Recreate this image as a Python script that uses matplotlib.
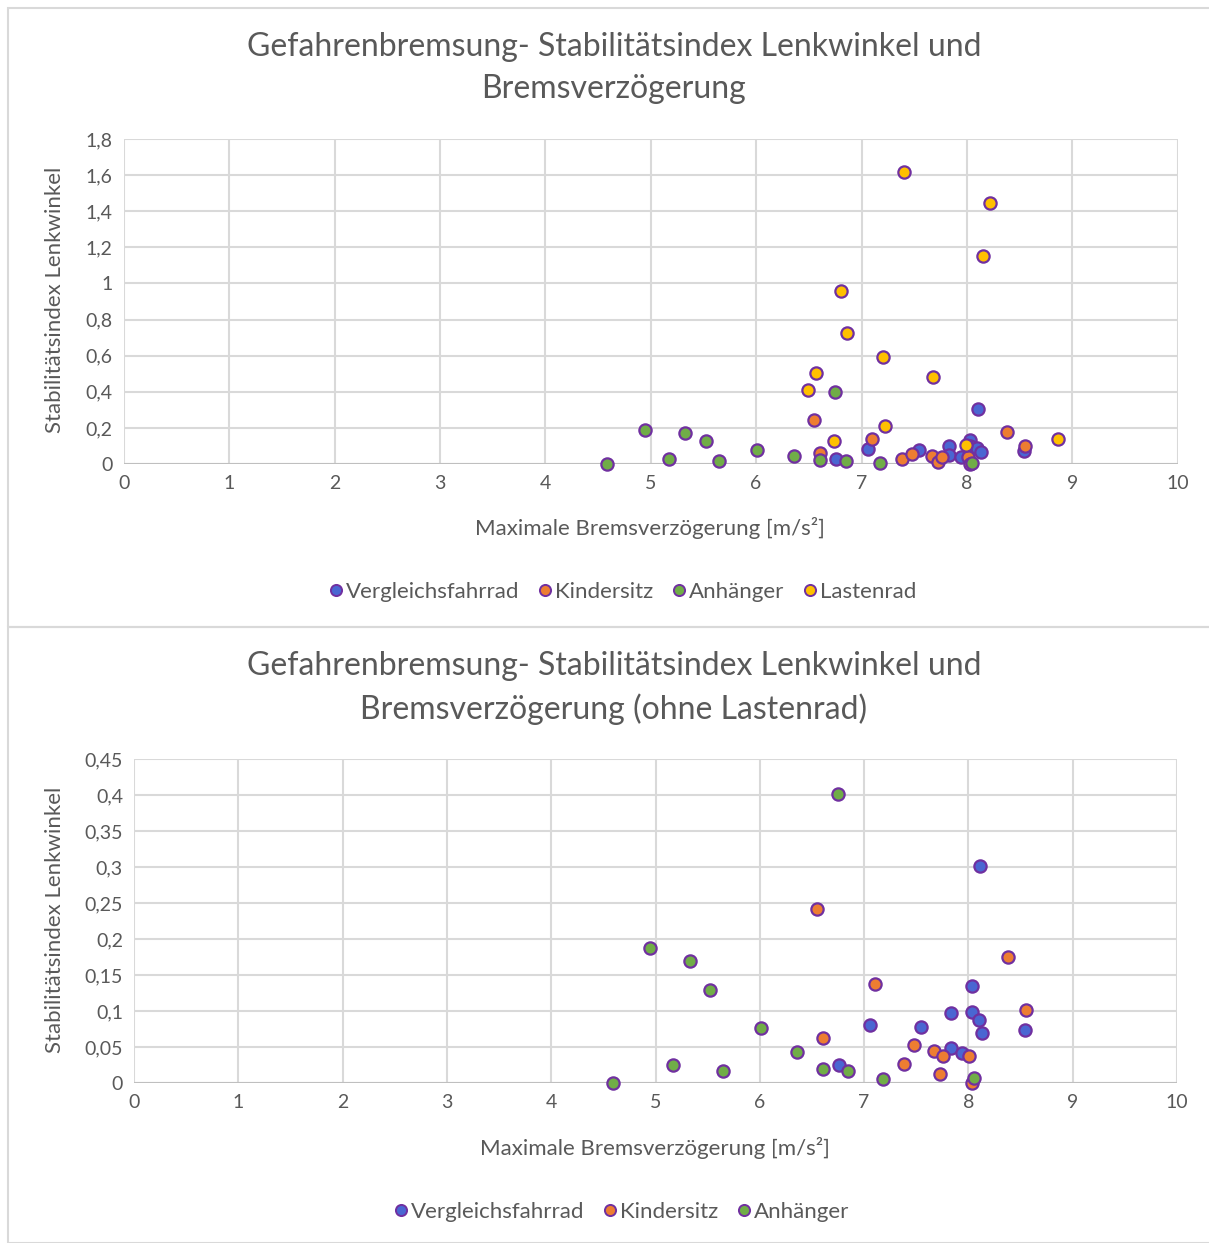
import matplotlib
matplotlib.use("Agg")
import matplotlib.pyplot as plt
from matplotlib.lines import Line2D
from matplotlib.patches import Rectangle

# Maximale Bremsverzögerung [m/s²] and Stabilitätsindex Lenkwinkel per group
vergleich_x = [6.76, 7.06, 7.55, 7.83, 7.83, 7.94, 8.03, 8.03, 8.10, 8.11, 8.13, 8.54]
vergleich_y = [0.025, 0.081, 0.078, 0.097, 0.048, 0.041, 0.135, 0.099, 0.088, 0.302, 0.069, 0.073]

kindersitz_x = [6.55, 6.61, 7.10, 7.38, 7.48, 7.67, 7.73, 7.76, 8.01, 8.03, 8.38, 8.55]
kindersitz_y = [0.241, 0.063, 0.137, 0.027, 0.053, 0.045, 0.012, 0.038, 0.038, 0.0, 0.175, 0.101]

anhaenger_x = [4.59, 4.95, 5.17, 5.33, 5.52, 5.65, 6.01, 6.36, 6.61, 6.75, 6.85, 7.18, 8.05]
anhaenger_y = [0.0, 0.187, 0.025, 0.170, 0.129, 0.017, 0.076, 0.043, 0.020, 0.401, 0.017, 0.005, 0.007]

lastenrad_x = [7.40, 8.22, 8.15, 6.81, 6.86, 7.20, 6.57, 6.49, 7.68, 7.22, 6.74, 7.99, 8.86]
lastenrad_y = [1.617, 1.445, 1.150, 0.958, 0.725, 0.594, 0.502, 0.411, 0.482, 0.209, 0.127, 0.107, 0.138]

series_names = ["Vergleichsfahrrad", "Kindersitz", "Anhänger", "Lastenrad"]
series_colors = ["#4A66D2", "#ED7D31", "#70AD47", "#FFC000"]
edge_color = "#7030A0"

x_ticks = list(range(0, 11))
y_ticks_top = [0, 0.2, 0.4, 0.6, 0.8, 1.0, 1.2, 1.4, 1.6, 1.8]
y_ticks_bottom = [0, 0.05, 0.1, 0.15, 0.2, 0.25, 0.3, 0.35, 0.4, 0.45]

title_top = "Gefahrenbremsung- Stabilitätsindex Lenkwinkel und\nBremsverzögerung"
title_bottom = "Gefahrenbremsung- Stabilitätsindex Lenkwinkel und\nBremsverzögerung (ohne Lastenrad)"
x_label = "Maximale Bremsverzögerung [m/s²]"
y_label = "Stabilitätsindex Lenkwinkel"

plt.rcParams["font.family"] = ["Lato", "DejaVu Sans"]

W, H = 1209, 1243
fig = plt.figure(figsize=(W / 100, H / 100), dpi=100)
fig.patch.set_facecolor("white")

text_gray = "#595959"
grid_gray = "#D9D9D9"


def fx(px):
    return px / W


def fy(py):
    return 1 - py / H


def fmt(v):
    s = f"{v:g}"
    return s.replace(".", ",")


# chart-area frames
for top, bottom in [(8, 627), (627, 1243)]:
    fig.patches.append(Rectangle((fx(8), fy(bottom)), fx(W) - fx(8) + 0.01, fy(top) - fy(bottom),
                                 transform=fig.transFigure, fill=False,
                                 edgecolor="#D9D9D9", linewidth=1.5))


def draw_chart(left, right, top, bottom, ymax, yticks, groups, title, title_y,
               xlabel_y, ylabel_x, legend_y, legend_x):
    ax = fig.add_axes([fx(left), fy(bottom), fx(right) - fx(left), fy(top) - fy(bottom)])
    ax.set_xlim(0, 10)
    ax.set_ylim(0, ymax)
    ax.set_xticks(x_ticks)
    ax.set_yticks(yticks)
    ax.set_xticklabels([fmt(v) for v in x_ticks])
    ax.set_yticklabels([fmt(v) for v in yticks])
    ax.grid(True, color=grid_gray, linewidth=1.5)
    ax.set_axisbelow(True)
    for sp in ax.spines.values():
        sp.set_visible(False)
    ax.axhline(0, color="#BFBFBF", linewidth=1.5, zorder=1)
    ax.tick_params(length=0, labelsize=14, labelcolor=text_gray, pad=8)
    for (xs, ys), c in groups:
        ax.scatter(xs, ys, s=78, color=c, edgecolors=edge_color, linewidths=1.6, zorder=3,
                   clip_on=False)
    fig.text(fx(614), fy(title_y), title, ha="center", va="center", fontsize=23,
             color=text_gray, linespacing=1.5)
    fig.text(fx(xlabel_y[0]), fy(xlabel_y[1]), x_label, ha="center", va="center",
             fontsize=16, color=text_gray)
    fig.text(fx(ylabel_x[0]), fy(ylabel_x[1]), y_label, ha="center", va="center",
             rotation=90, fontsize=16, color=text_gray)
    handles = [Line2D([], [], linestyle="none", marker="o", markersize=8,
                      markerfacecolor=c, markeredgecolor=edge_color, markeredgewidth=1.4)
               for (_, c) in groups]
    fig.legend(handles, [n for n, _ in zip(series_names, groups)], loc="center",
               bbox_to_anchor=(fx(legend_x), fy(legend_y)), ncol=len(groups), frameon=False,
               fontsize=16, labelcolor=text_gray, handletextpad=0.0, columnspacing=0.7,
               handlelength=0.9)
    return ax


draw_chart(123.7, 1177.7, 138.9, 464, 1.8, y_ticks_top,
           [((vergleich_x, vergleich_y), series_colors[0]),
            ((kindersitz_x, kindersitz_y), series_colors[1]),
            ((anhaenger_x, anhaenger_y), series_colors[2]),
            ((lastenrad_x, lastenrad_y), series_colors[3])],
           title_top, 68, (650, 528), (55, 300), 592, 621)

draw_chart(134, 1177, 759, 1083, 0.45, y_ticks_bottom,
           [((vergleich_x, vergleich_y), series_colors[0]),
            ((kindersitz_x, kindersitz_y), series_colors[1]),
            ((anhaenger_x, anhaenger_y), series_colors[2])],
           title_bottom, 688, (655, 1148), (55, 920), 1212, 620)

fig.savefig("out.png", dpi=100, facecolor="white")
